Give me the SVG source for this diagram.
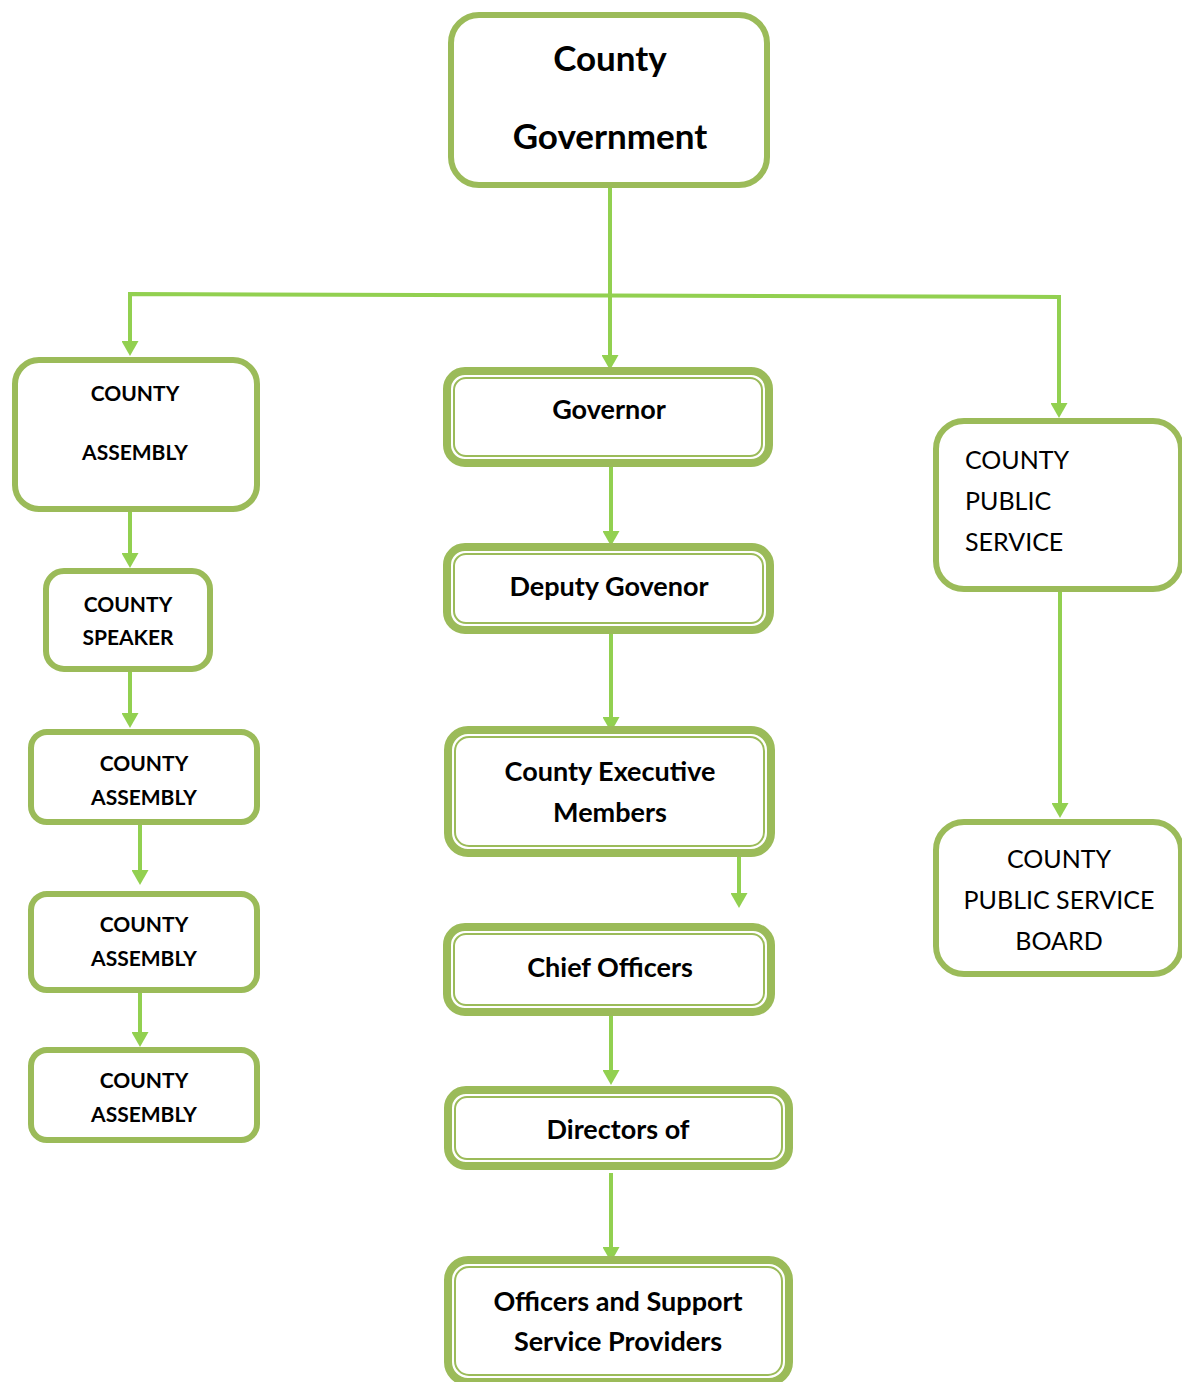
<svg xmlns="http://www.w3.org/2000/svg" width="1182" height="1382" viewBox="0 0 1182 1382">
<defs>
<style>
.bx{fill:#fff;stroke:#9BBB59;stroke-width:6}
.dbo{fill:#fff;stroke:#9BBB59;stroke-width:8}
.dbi{fill:none;stroke:#9BBB59;stroke-width:2}
.cn{fill:none;stroke:#92D050;stroke-width:4}
.t{font-family:Lato,"Open Sans","Noto Sans",sans-serif;fill:#000}
.tt{font-size:35px;font-weight:bold;text-anchor:middle}
.tm{font-size:27px;font-weight:bold;text-anchor:middle}
.ts{font-size:21px;font-weight:bold;text-anchor:middle}
.tr{font-size:25px;font-weight:normal}
</style>
<marker id="ah" markerUnits="userSpaceOnUse" viewBox="0 0 15 17" refX="5" refY="8.5" markerWidth="15" markerHeight="17" orient="auto">
<path d="M0,0 L15,8.5 L0,17 Z" fill="#92D050"/>
</marker>
</defs>
<rect width="1182" height="1382" fill="#fff"/>

<g id="connectors">
<path class="cn" d="M610,188 V360" marker-end="url(#ah)"/>
<path class="cn" d="M610,295.5 L130,294 V346" marker-end="url(#ah)"/>
<path class="cn" d="M610,295.5 L1059,297 V408" marker-end="url(#ah)"/>
<path class="cn" d="M130,512 V558" marker-end="url(#ah)"/>
<path class="cn" d="M130,672 V718" marker-end="url(#ah)"/>
<path class="cn" d="M140,825 V875" marker-end="url(#ah)"/>
<path class="cn" d="M140,988 V1037" marker-end="url(#ah)"/>
<path class="cn" d="M611,467 V536" marker-end="url(#ah)"/>
<path class="cn" d="M611,634 V722" marker-end="url(#ah)"/>
<path class="cn" d="M739,833 V898" marker-end="url(#ah)"/>
<path class="cn" d="M611,1016 V1075" marker-end="url(#ah)"/>
<path class="cn" d="M611,1173 V1252" marker-end="url(#ah)"/>
<path class="cn" d="M1060,592 V808" marker-end="url(#ah)"/>
</g>

<g id="county-government">
<rect class="bx" x="451" y="15" width="316" height="170" rx="28"/>
<text class="t tt" x="610" y="71">County</text>
<text class="t tt" x="610" y="149">Government</text>
</g>

<g id="county-assembly">
<rect class="bx" x="15" y="360" width="242" height="149" rx="24"/>
<text class="t ts" x="135" y="401">COUNTY</text>
<text class="t ts" x="135" y="460">ASSEMBLY</text>
</g>

<g id="county-speaker">
<rect class="bx" x="46" y="571" width="164" height="98" rx="18"/>
<text class="t ts" x="128" y="612">COUNTY</text>
<text class="t ts" x="128" y="645">SPEAKER</text>
</g>

<g id="county-assembly-2">
<rect class="bx" x="31" y="732" width="226" height="90" rx="16"/>
<text class="t ts" x="144" y="771">COUNTY</text>
<text class="t ts" x="144" y="805">ASSEMBLY</text>
</g>

<g id="county-assembly-3">
<rect class="bx" x="31" y="894" width="226" height="96" rx="16"/>
<text class="t ts" x="144" y="932">COUNTY</text>
<text class="t ts" x="144" y="966">ASSEMBLY</text>
</g>

<g id="county-assembly-4">
<rect class="bx" x="31" y="1050" width="226" height="90" rx="16"/>
<text class="t ts" x="144" y="1088">COUNTY</text>
<text class="t ts" x="144" y="1122">ASSEMBLY</text>
</g>

<g id="governor">
<rect class="dbo" x="447" y="371" width="322" height="92" rx="18"/>
<rect class="dbi" x="454" y="378" width="308" height="78" rx="12"/>
<text class="t tm" x="609" y="419">Governor</text>
</g>

<g id="deputy-governor">
<rect class="dbo" x="447" y="547" width="323" height="83" rx="18"/>
<rect class="dbi" x="454" y="554" width="309" height="69" rx="12"/>
<text class="t tm" x="609" y="596">Deputy Govenor</text>
</g>

<g id="county-executive-members">
<rect class="dbo" x="448" y="730" width="323" height="123" rx="20"/>
<rect class="dbi" x="455" y="737" width="309" height="109" rx="14"/>
<text class="t tm" x="610" y="781">County Executive</text>
<text class="t tm" x="610" y="822">Members</text>
</g>

<g id="chief-officers">
<rect class="dbo" x="447" y="927" width="324" height="85" rx="18"/>
<rect class="dbi" x="454" y="934" width="310" height="71" rx="12"/>
<text class="t tm" x="610" y="977">Chief Officers</text>
</g>

<g id="directors-of">
<rect class="dbo" x="448" y="1090" width="341" height="76" rx="18"/>
<rect class="dbi" x="455" y="1097" width="327" height="62" rx="12"/>
<text class="t tm" x="618" y="1139">Directors of</text>
</g>

<g id="officers-support">
<rect class="dbo" x="448" y="1260" width="341" height="122" rx="20"/>
<rect class="dbi" x="455" y="1267" width="327" height="108" rx="14"/>
<text class="t tm" x="618" y="1311">Officers and Support</text>
<text class="t tm" x="618" y="1351">Service Providers</text>
</g>

<g id="county-public-service">
<rect class="bx" x="936" y="421" width="245" height="168" rx="28"/>
<text class="t tr" x="965" y="469">COUNTY</text>
<text class="t tr" x="965" y="510">PUBLIC</text>
<text class="t tr" x="965" y="551">SERVICE</text>
</g>

<g id="county-public-service-board">
<rect class="bx" x="936" y="822" width="245" height="152" rx="28"/>
<text class="t tr" x="1059" y="868" text-anchor="middle">COUNTY</text>
<text class="t tr" x="1059" y="909" text-anchor="middle">PUBLIC SERVICE</text>
<text class="t tr" x="1059" y="950" text-anchor="middle">BOARD</text>
</g>
</svg>
